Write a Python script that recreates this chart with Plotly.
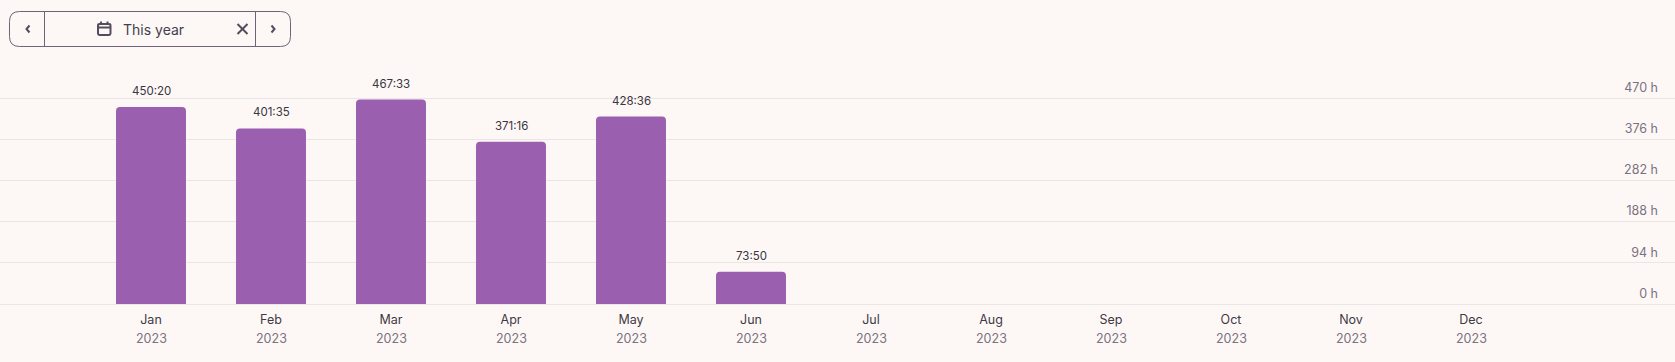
import plotly.graph_objects as go

W, H = 1675, 362
months = ["Jan", "Feb", "Mar", "Apr", "May", "Jun", "Jul", "Aug", "Sep", "Oct", "Nov", "Dec"]
years = ["2023"] * 12
hours = [450.33, 401.58, 467.55, 371.27, 428.60, 73.83]
duration_labels = ["450:20", "401:35", "467:33", "371:16", "428:36", "73:50"]
y_ticks = [0, 94, 188, 282, 376, 470]
y_tick_labels = ["0 h", "94 h", "188 h", "282 h", "376 h", "470 h"]

BG = "#fdf8f6"
BAR = "#9b5fb0"
GRID = "#eae6e5"
FONT = "Inter"
BORDER = "#6f6377"
ICON = "#544c5c"
AXIS_BOTTOM = 304
Y_MAX = 470 * AXIS_BOTTOM / 205.5

def px(v):
    return v / W

def py(v):
    return 1 - v / AXIS_BOTTOM

def paper_shape(path, **kw):
    s = dict(type="path", xref="paper", yref="paper", path=path, layer="above")
    s.update(kw)
    return s

def poly(points, close=False):
    d = "M " + " L ".join(f"{px(x):.5f},{py(y):.5f}" for x, y in points)
    return d + (" Z" if close else "")

def rounded(x0, y0, x1, y1, r):
    return (f"M {px(x0+r):.5f},{py(y0):.5f} L {px(x1-r):.5f},{py(y0):.5f} "
            f"Q {px(x1):.5f},{py(y0):.5f} {px(x1):.5f},{py(y0+r):.5f} "
            f"L {px(x1):.5f},{py(y1-r):.5f} Q {px(x1):.5f},{py(y1):.5f} {px(x1-r):.5f},{py(y1):.5f} "
            f"L {px(x0+r):.5f},{py(y1):.5f} Q {px(x0):.5f},{py(y1):.5f} {px(x0):.5f},{py(y1-r):.5f} "
            f"L {px(x0):.5f},{py(y0+r):.5f} Q {px(x0):.5f},{py(y0):.5f} {px(x0+r):.5f},{py(y0):.5f} Z")

line1 = dict(color=BORDER, width=1)
icon = dict(color=ICON, width=2)
shapes = [
    paper_shape(rounded(9.5, 11.5, 290.5, 46.5, 10), line=line1),
    paper_shape(poly([(44.5, 11.5), (44.5, 46.5)]), line=line1),
    paper_shape(poly([(255.5, 11.5), (255.5, 46.5)]), line=line1),
    paper_shape(poly([(29.5, 25.5), (26.5, 29), (29.5, 32.5)]), line=icon),
    paper_shape(poly([(271.5, 25.5), (274.5, 29), (271.5, 32.5)]), line=icon),
    paper_shape(rounded(98, 24, 110.5, 35, 1.5), line=icon),
    paper_shape(poly([(98, 27.5), (110.5, 27.5)]), line=icon),
    paper_shape(poly([(101, 21.5), (101, 24)]), line=icon),
    paper_shape(poly([(107.5, 21.5), (107.5, 24)]), line=icon),
    paper_shape(poly([(237.5, 24), (247.5, 34)]), line=icon),
    paper_shape(poly([(247.5, 24), (237.5, 34)]), line=icon),
]

fig = go.Figure(go.Bar(
    x=months[:len(hours)], y=hours, width=0.583,
    marker=dict(color=BAR, cornerradius=4, line=dict(width=0)),
    hoverinfo="skip",
))

annotations = [
    dict(x=m, y=v, text=t, xref="x", yref="y", showarrow=False, yanchor="bottom",
         yshift=7, font=dict(family=FONT, size=11.5, color="#3a3540"))
    for m, v, t in zip(months, hours, duration_labels)
]
annotations += [
    dict(x=m, y=0, text=t, xref="x", yref="y", showarrow=False, yanchor="middle",
         yshift=-34, font=dict(family=FONT, size=12.5, color="#7a7280"))
    for m, t in zip(months, years)
]
annotations.append(dict(
    xref="paper", yref="paper", x=px(121), y=py(29.5), text="This year", showarrow=False,
    xanchor="left", yanchor="middle", font=dict(family=FONT, size=14, color="#453e4d"),
))

fig.update_layout(
    width=W, height=H, autosize=False,
    margin=dict(l=0, r=0, t=0, b=H - AXIS_BOTTOM, pad=0),
    paper_bgcolor=BG, plot_bgcolor=BG, showlegend=False,
    font=dict(family=FONT),
    shapes=shapes, annotations=annotations,
    xaxis=dict(
        type="category", categoryorder="array", categoryarray=months,
        range=[-151 / 120, (W - 151) / 120],
        tickmode="array", tickvals=months, ticktext=months,
        ticklabelstandoff=6,
        tickfont=dict(family=FONT, size=12.5, color="#3f3a45"), ticks="", showgrid=False,
        showline=False, zeroline=False, fixedrange=True,
    ),
    yaxis=dict(
        range=[0, Y_MAX], side="right", tickmode="array",
        tickvals=y_ticks, ticktext=y_tick_labels,
        ticklabelposition="inside top", ticklabelstandoff=14, ticklabelshift=-2,
        tickfont=dict(family=FONT, size=12.5, color="#7a7280"),
        showgrid=True, gridcolor=GRID, gridwidth=1,
        zeroline=True, zerolinecolor=GRID, zerolinewidth=1,
        showline=False, ticks="", fixedrange=True,
    ),
)

fig.write_html(
    "out.html", config=dict(displayModeBar=False),
    post_script=f"document.body.style.margin='0';document.body.style.background='{BG}';",
)
